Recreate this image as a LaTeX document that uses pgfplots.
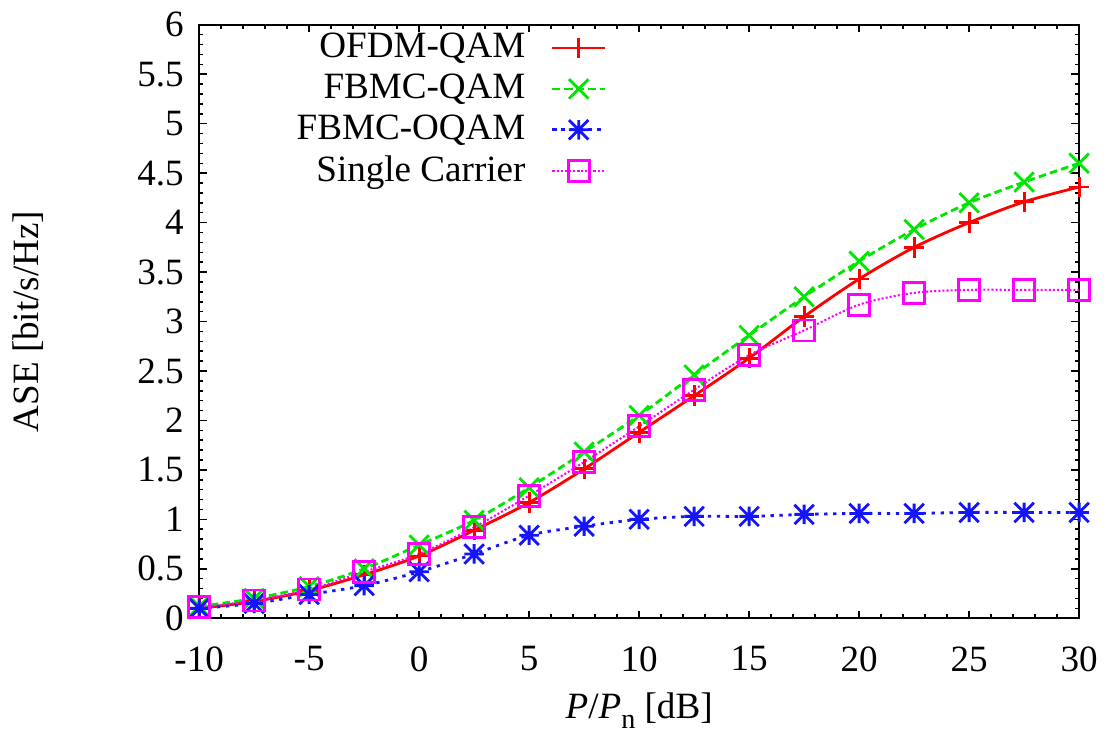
\documentclass[border=0pt]{standalone}
\usepackage{fontspec}
\setmainfont{Liberation Serif}
\usepackage{pgfplots}
\pgfplotsset{compat=1.18}
\definecolor{gpred}{RGB}{255,0,0}
\definecolor{gpgreen}{RGB}{0,230,0}
\definecolor{gpblue}{RGB}{20,20,255}
\definecolor{gpmag}{RGB}{255,0,255}
\pgfdeclareplotmark{gpx}{%
 \pgfpathmoveto{\pgfqpoint{-\pgfplotmarksize}{-\pgfplotmarksize}}\pgfpathlineto{\pgfqpoint{\pgfplotmarksize}{\pgfplotmarksize}}%
 \pgfpathmoveto{\pgfqpoint{-\pgfplotmarksize}{\pgfplotmarksize}}\pgfpathlineto{\pgfqpoint{\pgfplotmarksize}{-\pgfplotmarksize}}%
 \pgfusepathqstroke}
\pgfdeclareplotmark{gpstar}{%
 \pgfpathmoveto{\pgfqpoint{-\pgfplotmarksize}{0pt}}\pgfpathlineto{\pgfqpoint{\pgfplotmarksize}{0pt}}%
 \pgfpathmoveto{\pgfqpoint{0pt}{-\pgfplotmarksize}}\pgfpathlineto{\pgfqpoint{0pt}{\pgfplotmarksize}}%
 \pgfpathmoveto{\pgfqpoint{-\pgfplotmarksize}{-\pgfplotmarksize}}\pgfpathlineto{\pgfqpoint{\pgfplotmarksize}{\pgfplotmarksize}}%
 \pgfpathmoveto{\pgfqpoint{-\pgfplotmarksize}{\pgfplotmarksize}}\pgfpathlineto{\pgfqpoint{\pgfplotmarksize}{-\pgfplotmarksize}}%
 \pgfusepathqstroke}
\begin{document}
\rmfamily\fontsize{14.5}{17}\selectfont
\begin{tikzpicture}
\begin{axis}[
  scale only axis,
  width=344pt, height=232pt,
  xmin=-10, xmax=30, ymin=0, ymax=6,
  xtick={-10,-5,0,5,10,15,20,25,30},
  xticklabels={-10,-5,0,5,10,15,20,25,30},
  ytick={0,0.5,1,1.5,2,2.5,3,3.5,4,4.5,5,5.5,6},
  yticklabels={0,0.5,1,1.5,2,2.5,3,3.5,4,4.5,5,5.5,6},
  minor x tick num=4, minor y tick num=4,
  tick align=inside,
  major tick length=3pt, minor tick length=1.6pt,
  every tick/.style={black, line width=0.6pt},
  axis line style={line width=0.8pt},
  tick label style={font=\rmfamily\fontsize{14.5}{17}\selectfont},
  label style={font=\rmfamily\fontsize{14.5}{17}\selectfont},
  xticklabel style={yshift=-6pt},
  yticklabel style={xshift=-1pt},
  xlabel={\textit{P}/\textit{P}\raisebox{-0.55ex}{\fontsize{11}{13}\selectfont n} [dB]},
  ylabel={ASE [bit/s/Hz]},
  xlabel style={yshift=1.5pt},
  ylabel style={yshift=27pt},
  legend style={draw=none, fill=none, at={(0.472,1.0)}, anchor=north east, yshift=1pt,
    font=\rmfamily\fontsize{14.5}{17}\selectfont, row sep=0.2pt,
    /tikz/every odd column/.append style={column sep=8pt}},
  legend cell align=right,
  legend plot pos=right,
  legend image code/.code={
    \draw[mark repeat=2,mark phase=2] plot coordinates {(0cm,0cm) (0.36cm,0cm) (0.72cm,0cm)};},
]
\addplot[color=gpred, line width=1.1pt, smooth, mark=+, mark size=4pt, mark options={solid, line width=1.1pt}] coordinates {
(-10,0.10) (-7.5,0.17) (-5,0.28) (-2.5,0.44) (0,0.63) (2.5,0.89) (5,1.17) (7.5,1.51) (10,1.88) (12.5,2.25) (15,2.63) (17.5,3.05) (20,3.43) (22.5,3.75) (25,4.00) (27.5,4.21) (30,4.36)};
\addlegendentry{OFDM-QAM}
\addplot[color=gpgreen, line width=1.1pt, dash pattern=on 3pt off 1.6pt, smooth, mark=gpx, mark size=3.8pt, mark options={solid, line width=1.1pt}] coordinates {
(-10,0.12) (-7.5,0.20) (-5,0.32) (-2.5,0.50) (0,0.74) (2.5,0.99) (5,1.32) (7.5,1.68) (10,2.05) (12.5,2.46) (15,2.86) (17.5,3.25) (20,3.61) (22.5,3.93) (25,4.20) (27.5,4.41) (30,4.60)};
\addlegendentry{FBMC-QAM}
\addplot[color=gpblue, line width=1.1pt, dash pattern=on 1.3pt off 2.2pt, smooth, mark=gpstar, mark size=3.8pt, mark options={solid, line width=1.1pt}] coordinates {
(-10,0.10) (-7.5,0.15) (-5,0.24) (-2.5,0.33) (0,0.47) (2.5,0.65) (5,0.84) (7.5,0.93) (10,1.00) (12.5,1.03) (15,1.03) (17.5,1.05) (20,1.06) (22.5,1.06) (25,1.07) (27.5,1.07) (30,1.07)};
\addlegendentry{FBMC-OQAM}
\addplot[color=gpmag, line width=0.8pt, dash pattern=on 0.8pt off 0.8pt, smooth, mark=square, mark size=4.1pt, mark options={solid, line width=1.1pt}] coordinates {
(-10,0.11) (-7.5,0.18) (-5,0.29) (-2.5,0.47) (0,0.65) (2.5,0.92) (5,1.24) (7.5,1.58) (10,1.94) (12.5,2.31) (15,2.66) (17.5,2.91) (20,3.17) (22.5,3.29) (25,3.32) (27.5,3.32) (30,3.32)};
\addlegendentry{Single Carrier}
\end{axis}
\end{tikzpicture}
\end{document}
